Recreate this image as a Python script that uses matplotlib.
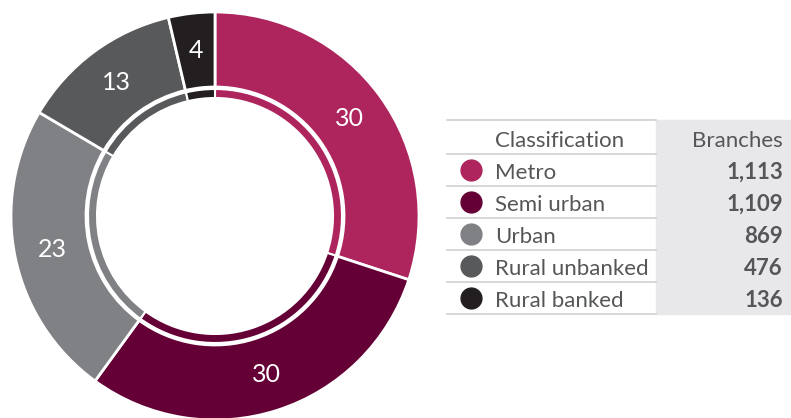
import matplotlib.pyplot as plt
from matplotlib.patches import Rectangle

plt.rcParams['font.family'] = ['Lato', 'DejaVu Sans']

## Data

CATEGORIES = ["Metro", "Semi urban", "Urban", "Rural unbanked", "Rural banked"]
BRANCHES = [1113, 1109, 869, 476, 136]
BRANCH_LABELS = ["1,113", "1,109", "869", "476", "136"]
COLORS = ["#AE255E", "#640035", "#808184", "#58595B", "#231F20"]
TEXT_COLOR = "#555658"

W, H = 791, 418

fig = plt.figure(figsize=(W / 100, H / 100), dpi=100)

# donut axes: centre (215, 202) px, radius 204 px
ax = fig.add_axes([(215 - 204) / W, (202 - 204) / H, 408 / W, 408 / H])

ax.pie(
    BRANCHES,
    colors=COLORS,
    radius=1.0,
    startangle=90,
    counterclock=False,
    wedgeprops=dict(width=1.0 - 129 / 204, edgecolor="white", linewidth=2),
    autopct=lambda p: f"{p:.0f}",
    pctdistance=0.815,
    textprops=dict(color="white", fontsize=18),
)
# thin inner ring
ax.pie(
    BRANCHES,
    colors=COLORS,
    radius=127 / 204,
    startangle=90,
    counterclock=False,
    wedgeprops=dict(width=(127 - 118) / 204, edgecolor="white", linewidth=1.5),
)
ax.set_xlim(-1, 1)
ax.set_ylim(-1, 1)
ax.set_aspect("equal")
ax.axis("off")

# table on the right, pixel coords (y down)
tx = fig.add_axes([0, 0, 1, 1])
tx.set_xlim(0, W)
tx.set_ylim(H, 0)
tx.axis("off")

lines = [120] + [153.7 + 32.06 * i for i in range(len(CATEGORIES) + 1)]
tx.add_patch(Rectangle((656, lines[0]), W - 656, lines[-1] - lines[0],
                       color="#E8E8EA", zorder=0))
for y in lines:
    tx.plot([447, 656], [y, y], color="#CFCFD1", lw=1.2, zorder=1)

tx.text(495, lines[1] - 7, "Classification", fontsize=16, color=TEXT_COLOR,
        ha="left", va="baseline")
tx.text(783, lines[1] - 7, "Branches", fontsize=16, color=TEXT_COLOR,
        ha="right", va="baseline")

for i, (cat, lab, col) in enumerate(zip(CATEGORIES, BRANCH_LABELS, COLORS)):
    y_bot = lines[i + 2]
    y_mid = (lines[i + 1] + lines[i + 2]) / 2
    tx.plot([470.5], [y_mid + 0.5], "o", color=col, markersize=15)
    tx.text(495, y_bot - 7, cat, fontsize=16, color=TEXT_COLOR,
            ha="left", va="baseline")
    tx.text(783, y_bot - 7, lab, fontsize=16, color=TEXT_COLOR,
            ha="right", va="baseline", fontweight="bold")

fig.savefig("out.png", dpi=100)
